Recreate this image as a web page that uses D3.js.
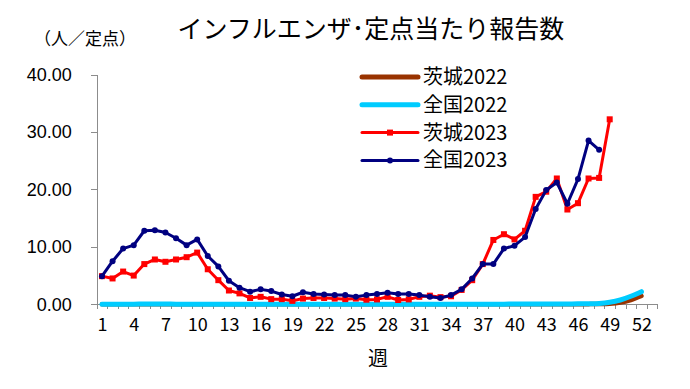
<!DOCTYPE html>
<html>
<head>
<meta charset="utf-8">
<script src="https://cdn.jsdelivr.net/npm/d3@7"></script>
<style>
body { margin: 0; background: #ffffff; }
svg { display: block; }
.axis path, .axis line { stroke: #8c8c8c; stroke-width: 1; shape-rendering: crispEdges; }
</style>
</head>
<body>
<div id="chart"></div>
<script>
// weeks 1..53 (53 has no data)
var weeks = d3.range(1, 54);
var weekLabels = [1, 4, 7, 10, 13, 16, 19, 22, 25, 28, 31, 34, 37, 40, 43, 46, 49, 52];
var yTicks = [0, 10, 20, 30, 40];

var seriesNames = ['茨城2022', '全国2022', '茨城2023', '全国2023'];

var ibaraki2022 = [0.02, 0.02, 0.02, 0.02, 0.02, 0.02, 0.02, 0.02, 0.02, 0.02,
	0.01, 0.01, 0.01, 0.01, 0.01, 0.01, 0.01, 0.01, 0.01, 0.01,
	0.01, 0.01, 0.01, 0.01, 0.01, 0.01, 0.01, 0.01, 0.01, 0.01,
	0.01, 0.01, 0.01, 0.01, 0.01, 0.01, 0.01, 0.01, 0.01, 0.01,
	0.01, 0.01, 0.01, 0.02, 0.02, 0.02, 0.03, 0.05, 0.1, 0.3,
	0.75, 1.45, null];
var national2022 = [0.03, 0.03, 0.03, 0.03, 0.04, 0.04, 0.04, 0.03, 0.03, 0.03,
	0.02, 0.02, 0.02, 0.02, 0.02, 0.02, 0.02, 0.02, 0.02, 0.02,
	0.02, 0.02, 0.02, 0.02, 0.02, 0.02, 0.02, 0.02, 0.02, 0.02,
	0.02, 0.02, 0.02, 0.02, 0.02, 0.02, 0.03, 0.03, 0.03, 0.04,
	0.04, 0.05, 0.05, 0.06, 0.07, 0.08, 0.1, 0.15, 0.35, 0.75,
	1.4, 2.2, null];
var ibaraki2023 = [4.9, 4.5, 5.7, 5.0, 7.0, 7.8, 7.4, 7.8, 8.2, 9.0,
	6.1, 4.2, 2.4, 1.9, 1.1, 1.3, 0.9, 0.9, 0.6, 1.0,
	1.1, 1.1, 1.0, 0.9, 1.0, 0.8, 0.85, 1.3, 0.75, 0.85,
	1.3, 1.5, 1.25, 1.4, 2.5, 4.2, 7.0, 11.2, 12.2, 11.3,
	12.8, 18.7, 19.6, 21.9, 16.5, 17.6, 21.9, 22.0, 32.2];
var national2023 = [4.9, 7.5, 9.7, 10.3, 12.8, 12.9, 12.5, 11.5, 10.3, 11.3,
	8.4, 6.6, 4.1, 2.9, 2.2, 2.6, 2.3, 1.7, 1.4, 2.1,
	1.8, 1.7, 1.6, 1.6, 1.3, 1.6, 1.8, 2.0, 1.8, 1.8,
	1.6, 1.3, 1.1, 1.6, 2.6, 4.5, 7.0, 7.0, 9.7, 10.2,
	11.7, 16.6, 19.9, 21.2, 17.5, 21.8, 28.5, 26.9];

var width = 690, height = 389;
var plotLeft = 96.7, plotRight = 657.3, plotTop = 74.5, plotBottom = 304.3;

var svg = d3.select('#chart').append('svg')
	.attr('width', width)
	.attr('height', height);

var xb = d3.scaleLinear().domain([0.5, 53.5]).range([plotLeft, plotRight]);
var y = d3.scaleLinear().domain([0, 40]).range([plotBottom, plotTop]);

// title + unit
svg.append('text')
	.attr('x', 371).attr('y', 38)
	.attr('text-anchor', 'middle')
	.attr('font-family', 'Noto Sans CJK JP')
	.attr('font-size', '25px')
	.attr('fill', '#000')
	.text('インフルエンザ･定点当たり報告数');
svg.append('text')
	.attr('x', 34).attr('y', 45)
	.attr('font-family', 'Noto Sans CJK JP')
	.attr('font-size', '17px')
	.attr('fill', '#000')
	.text('（人／定点）');

// y axis
var yAxis = svg.append('g').attr('class', 'axis')
	.attr('transform', 'translate(' + plotLeft + ',0)')
	.call(d3.axisLeft(y).tickValues(yTicks).tickFormat(d3.format('.2f')).tickSize(6).tickSizeOuter(0).tickPadding(19));
yAxis.selectAll('text')
	.attr('font-family', 'Liberation Sans, Arial, sans-serif')
	.attr('font-size', '18px')
	.attr('fill', '#000');

// x axis: tick marks at week boundaries, labels every 3 weeks
var bounds = d3.range(0, 54).map(function (d) { return d + 0.5; });
svg.append('g').attr('class', 'axis')
	.attr('transform', 'translate(0,' + plotBottom + ')')
	.call(d3.axisBottom(xb).tickValues(bounds).tickFormat('').tickSize(5).tickSizeOuter(0));
var xLab = svg.append('g')
	.attr('transform', 'translate(0,' + plotBottom + ')')
	.call(d3.axisBottom(xb).tickValues(weekLabels).tickFormat(d3.format('d')).tickSize(0).tickPadding(14));
xLab.select('.domain').remove();
xLab.selectAll('text')
	.attr('font-family', 'Noto Sans CJK JP')
	.attr('font-size', '18px')
	.attr('fill', '#000');

svg.append('text')
	.attr('x', 378).attr('y', 366)
	.attr('text-anchor', 'middle')
	.attr('font-family', 'Noto Sans CJK JP')
	.attr('font-size', '20px')
	.attr('fill', '#000')
	.text('週');

// series
var series = [
	{ name: seriesNames[0], vals: ibaraki2022, color: '#993300', w: 4.5, smooth: true, marker: null },
	{ name: seriesNames[1], vals: national2022, color: '#00CCFF', w: 5, smooth: true, marker: null },
	{ name: seriesNames[2], vals: ibaraki2023, color: '#FF0000', w: 3, smooth: false, marker: 'square' },
	{ name: seriesNames[3], vals: national2023, color: '#000080', w: 3, smooth: false, marker: 'circle' }
];

series.forEach(function (s) {
	var pts = [];
	s.vals.forEach(function (v, i) {
		if (v != null) pts.push({ w: weeks[i], v: v });
	});
	var line = d3.line()
		.x(function (d) { return xb(d.w); })
		.y(function (d) { return y(d.v); })
		.curve(s.smooth ? d3.curveCatmullRom : d3.curveLinear);
	svg.append('path')
		.datum(pts)
		.attr('d', line)
		.attr('fill', 'none')
		.attr('stroke', s.color)
		.attr('stroke-width', s.w)
		.attr('stroke-linecap', 'round')
		.attr('stroke-linejoin', 'round');

	if (s.marker == 'square') {
		svg.append('g').selectAll('rect')
			.data(pts).enter().append('rect')
			.attr('x', function (d) { return xb(d.w) - 3; })
			.attr('y', function (d) { return y(d.v) - 3; })
			.attr('width', 6).attr('height', 6)
			.attr('fill', s.color);
	} else if (s.marker == 'circle') {
		svg.append('g').selectAll('circle')
			.data(pts).enter().append('circle')
			.attr('cx', function (d) { return xb(d.w); })
			.attr('cy', function (d) { return y(d.v); })
			.attr('r', 3)
			.attr('fill', s.color);
	}
});

// legend
var legend = svg.append('g').attr('transform', 'translate(362,77)');
series.forEach(function (s, i) {
	var g = legend.append('g').attr('transform', 'translate(0,' + (i * 27.8) + ')');
	g.append('line')
		.attr('x1', 0).attr('x2', 56).attr('y1', 0).attr('y2', 0)
		.attr('stroke', s.color)
		.attr('stroke-width', s.marker ? 3 : 5)
		.attr('stroke-linecap', 'round');
	if (s.marker == 'square') {
		g.append('rect').attr('x', 25).attr('y', -3).attr('width', 6).attr('height', 6).attr('fill', s.color);
	} else if (s.marker == 'circle') {
		g.append('circle').attr('cx', 28).attr('cy', 0).attr('r', 3).attr('fill', s.color);
	}
	g.append('text')
		.attr('x', 61).attr('y', 0)
		.attr('dy', '0.35em')
		.attr('font-family', 'Noto Sans CJK JP')
		.attr('font-size', '20px')
		.attr('fill', '#000')
		.text(s.name);
});
</script>
</body>
</html>
